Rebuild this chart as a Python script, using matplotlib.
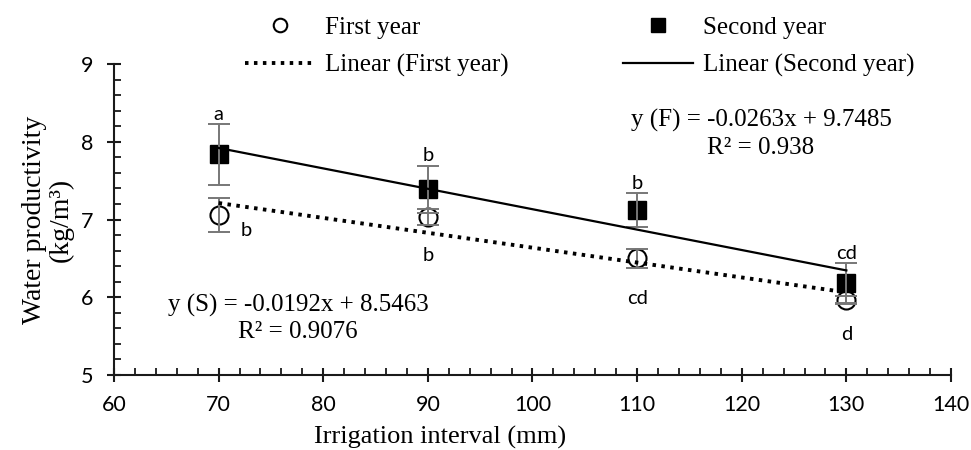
import numpy as np
import matplotlib
matplotlib.use("Agg")
import matplotlib.pyplot as plt
from matplotlib.ticker import MultipleLocator

# data
interval = np.array([70, 90, 110, 130])
first_year = np.array([7.06, 7.03, 6.50, 5.96])
first_err = np.array([0.22, 0.10, 0.12, 0.05])
second_year = np.array([7.84, 7.39, 7.12, 6.18])
second_err = np.array([0.39, 0.30, 0.22, 0.26])
first_letters = ["b", "b", "cd", "d"]
second_letters = ["a", "b", "b", "cd"]
eq_second = "y (F) = -0.0263x + 9.7485\nR² = 0.938"
eq_first = "y (S) = -0.0192x + 8.5463\nR² = 0.9076"

serif = "Liberation Serif"
sans = "Lato"
ink = "#1a1a1a"

fig = plt.figure(figsize=(9.71, 4.5), dpi=100)
ax = fig.add_axes([0.1174, 0.1667, 0.862, 0.691])

# markers first, error bars and trend lines on top
ax.plot(interval, first_year, "o", ms=13, mfc="white", mec="black", mew=1.5,
        zorder=2, label="First year")
ax.plot(interval, second_year, "s", ms=13, color="black", zorder=2,
        label="Second year")
ax.errorbar(interval, first_year, yerr=first_err, fmt="none", ecolor="#777777",
            elinewidth=1.4, capsize=8, capthick=1.4, zorder=3)
ax.errorbar(interval, second_year, yerr=second_err, fmt="none", ecolor="#777777",
            elinewidth=1.4, capsize=8, capthick=1.4, zorder=3)

k1, b1 = np.polyfit(interval, first_year, 1)
k2, b2 = np.polyfit(interval, second_year, 1)
ax.plot(interval, k1 * interval + b1, ls=(0, (0.9, 1.4)), lw=2.8, color="black",
        zorder=4, label="Linear (First year)")
ax.plot(interval, k2 * interval + b2, "-", lw=1.6, color="black", zorder=4,
        label="Linear (Second year)")

# significance letters
for i in range(len(interval)):
    ax.annotate(second_letters[i], (interval[i], second_year[i] + second_err[i]),
                xytext=(0, 1), textcoords="offset points", ha="center",
                va="bottom", fontsize=14.5, family=sans)
for i in range(len(interval)):
    if i == 0:
        ax.annotate(first_letters[i], (interval[i], first_year[i]),
                    xytext=(16, -5), textcoords="offset points", ha="left",
                    va="top", fontsize=14.5, family=sans)
    else:
        ax.annotate(first_letters[i], (interval[i], first_year[i] - first_err[i]),
                    xytext=(0, -16), textcoords="offset points", ha="center",
                    va="top", fontsize=14.5, family=sans)

ax.text(0.773, 0.775, eq_second, transform=ax.transAxes, ha="center",
        va="center", fontsize=18, family=serif, linespacing=1.25)
ax.text(0.22, 0.183, eq_first, transform=ax.transAxes, ha="center",
        va="center", fontsize=18, family=serif, linespacing=1.25)

ax.set_xlim(60, 140)
ax.set_ylim(5, 9)
ax.xaxis.set_major_locator(MultipleLocator(10))
ax.xaxis.set_minor_locator(MultipleLocator(2))
ax.yaxis.set_major_locator(MultipleLocator(1))
ax.yaxis.set_minor_locator(MultipleLocator(0.2))
ax.tick_params(which="major", direction="inout", length=9.5, width=1.5,
               labelsize=15.5, color=ink)
ax.tick_params(which="minor", direction="in", length=5, width=1.3, color=ink)
for lab in ax.get_xticklabels() + ax.get_yticklabels():
    lab.set_family(sans)
ax.tick_params(axis="x", pad=10)
ax.tick_params(axis="y", pad=10)

for s in ["top", "right"]:
    ax.spines[s].set_visible(False)
for s in ["left", "bottom"]:
    ax.spines[s].set_linewidth(1.5)
    ax.spines[s].set_color(ink)

ax.set_xlabel("Irrigation interval (mm)", family=serif, fontsize=19, labelpad=1)
ax.xaxis.set_label_coords(0.39, -0.165)
ax.set_ylabel("Water productivity\n(kg/m³)", family=serif, fontsize=20,
              labelpad=5, linespacing=1.1)

h, l = ax.get_legend_handles_labels()
order = [0, 2, 1, 3]
fig.legend([h[i] for i in order], [l[i] for i in order], ncol=2,
           loc="upper left", bbox_to_anchor=(0.252, 0.963), frameon=False,
           prop={"family": serif, "size": 18}, handlelength=2.8,
           handletextpad=0.4, columnspacing=4.6, labelspacing=0.6,
           borderpad=0, borderaxespad=0, markerscale=0.75)

fig.savefig("out.png", dpi=100)
